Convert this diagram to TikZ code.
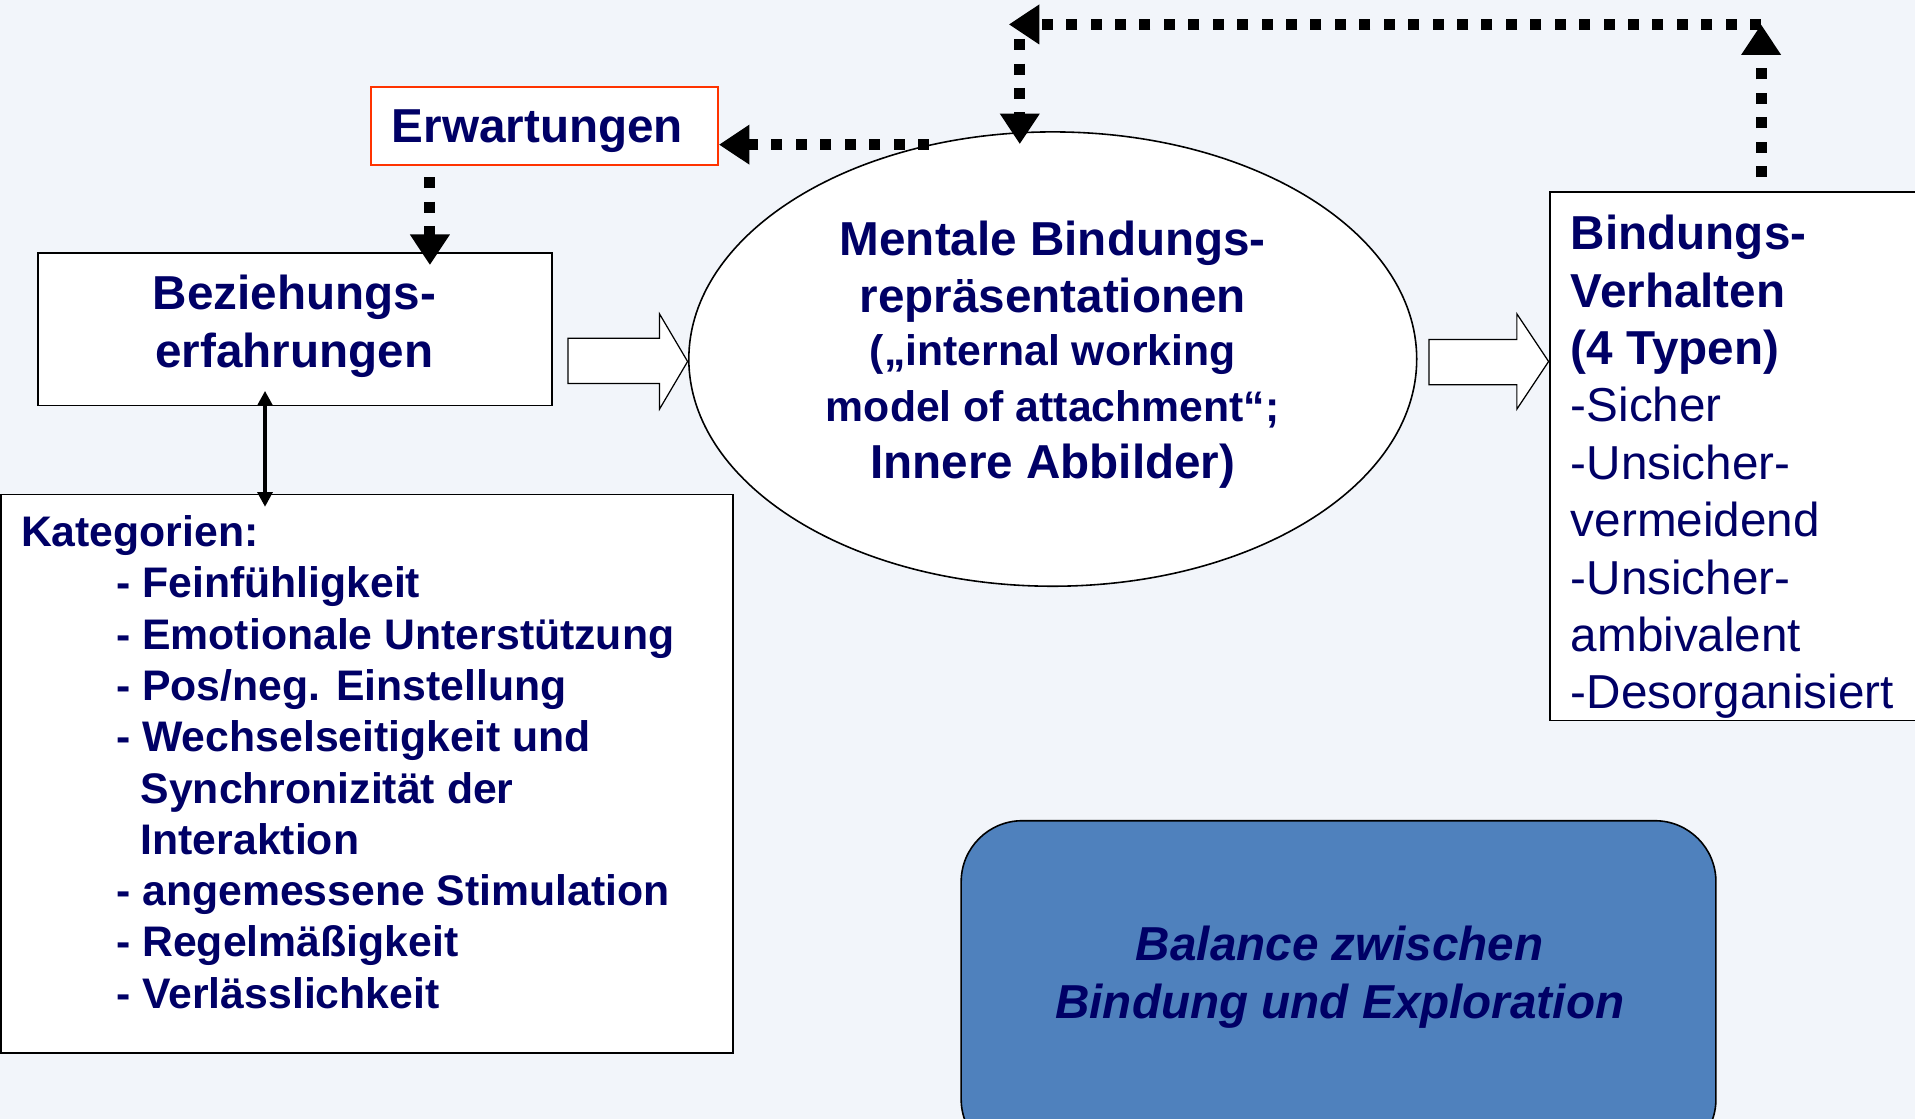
\documentclass[tikz,border=0pt]{standalone}
\usepackage{fontspec}
\setmainfont{Liberation Sans}
\usetikzlibrary{arrows.meta,shapes.geometric,calc}
\definecolor{navy}{HTML}{000066}
\definecolor{bgc}{HTML}{F2F5FA}
\definecolor{blu}{HTML}{4F81BD}
\definecolor{redb}{HTML}{FF3300}
\begin{document}
\begin{tikzpicture}[x=1pt,y=-1pt,
  box/.style={draw=black, line width=1.3pt, fill=white, inner sep=0pt},
  txt/.style={text=navy, inner sep=0pt, font=\bfseries\fontsize{39}{47}\selectfont},
  dots/.style={line width=9pt, dash pattern=on 9pt off 11pt, -{Triangle[length=25pt,width=31pt]}},
  hollow/.style={draw=black, line width=1pt, fill=white}]
\useasboundingbox (0,0) rectangle (1568,916);
\fill[bgc] (0,0) rectangle (1568,916);

% shapes
\node[box, draw=redb, minimum width=284pt, minimum height=64pt] (erw) at (446,103) {};
\node[box, minimum width=421pt, minimum height=125pt] (bez) at (241.5,269.5) {};
\node[box, minimum width=599pt, minimum height=457pt] (kat) at (300.5,633.5) {};
\node[box, minimum width=321pt, minimum height=433pt] (bind) at (1429.5,373.5) {};
\node[box, ellipse, minimum width=596pt, minimum height=372pt] (ell) at (862,294) {};
\node[draw=black, line width=1.3pt, fill=blu, rounded corners=50pt, minimum width=618pt, minimum height=278pt] (bal) at (1096,811) {};

% texts
\node[txt] (erwt) at (440,107) {Erwartungen};
\node[txt, align=center] (bezt) at (241,267) {Beziehungs-\\erfahrungen};
\node[txt, align=center] (ellt) at (862,290.5) {Mentale Bindungs-\\repräsentationen\\[-4pt]{\fontsize{35}{45}\selectfont („internal working}\\[-1pt]{\fontsize{35}{45}\selectfont model of attachment“;}\\Innere Abbilder)};
\node[txt, align=left, anchor=north west] (bindt) at (1286,176) {Bindungs-\\Verhalten\\(4 Typen)\\\mdseries -Sicher\\\mdseries -Unsicher-\\\mdseries vermeidend\\\mdseries -Unsicher-\\\mdseries ambivalent\\\mdseries -Desorganisiert};
\node[txt, font=\bfseries\fontsize{35}{42}\selectfont, align=left, anchor=north west] (katt) at (17,422) {Kategorien:\\
\hspace*{78pt}- Feinfühligkeit\\
\hspace*{78pt}- Emotionale Unterstützung\\
\hspace*{78pt}- Pos/neg. Einstellung\\
\hspace*{78pt}- Wechselseitigkeit und\\
\hspace*{98pt}Synchronizität der\\
\hspace*{98pt}Interaktion\\
\hspace*{78pt}- angemessene Stimulation\\
\hspace*{78pt}- Regelmäßigkeit\\
\hspace*{78pt}- Verlässlichkeit};
\node[txt, font=\bfseries\itshape\fontsize{39}{48}\selectfont, align=center] (balt) at (1097,800) {Balance zwischen\\Bindung und Exploration};

% hollow block arrows
\draw[hollow] (465,277) -- (540,277) -- (540,257) -- (563,296) -- (540,335) -- (540,314) -- (465,314) -- cycle;
\draw[hollow] (1170,278) -- (1242,278) -- (1242,257) -- (1268,296) -- (1242,335) -- (1242,315) -- (1170,315) -- cycle;

% named connector end points
\coordinate (corner) at (1442,20);
\coordinate (topleft) at (826,20);
\coordinate (vtop) at (835,32);
\coordinate (vbot) at (835,118);
\coordinate (bindtop) at (1442,145);
\coordinate (erwbot) at (352,145);
\coordinate (beztop) at (352,217);
\coordinate (bezbot) at (217,320);
\coordinate (kattop) at (217,415);

% dotted connectors
\draw[dots] (ell.120) -- (erw.east |- ell.120);
\draw[dots] (erwbot) -- (beztop);
\draw[dots] (bindtop) -- (corner);
\draw[dots] (corner) -- (topleft);
\draw[dots] (vtop) -- (vbot);

% solid double arrow
\draw[line width=3pt, {Triangle[length=12pt,width=12pt]}-{Triangle[length=12pt,width=12pt]}] (bezbot) -- (kattop);
\end{tikzpicture}
\end{document}
